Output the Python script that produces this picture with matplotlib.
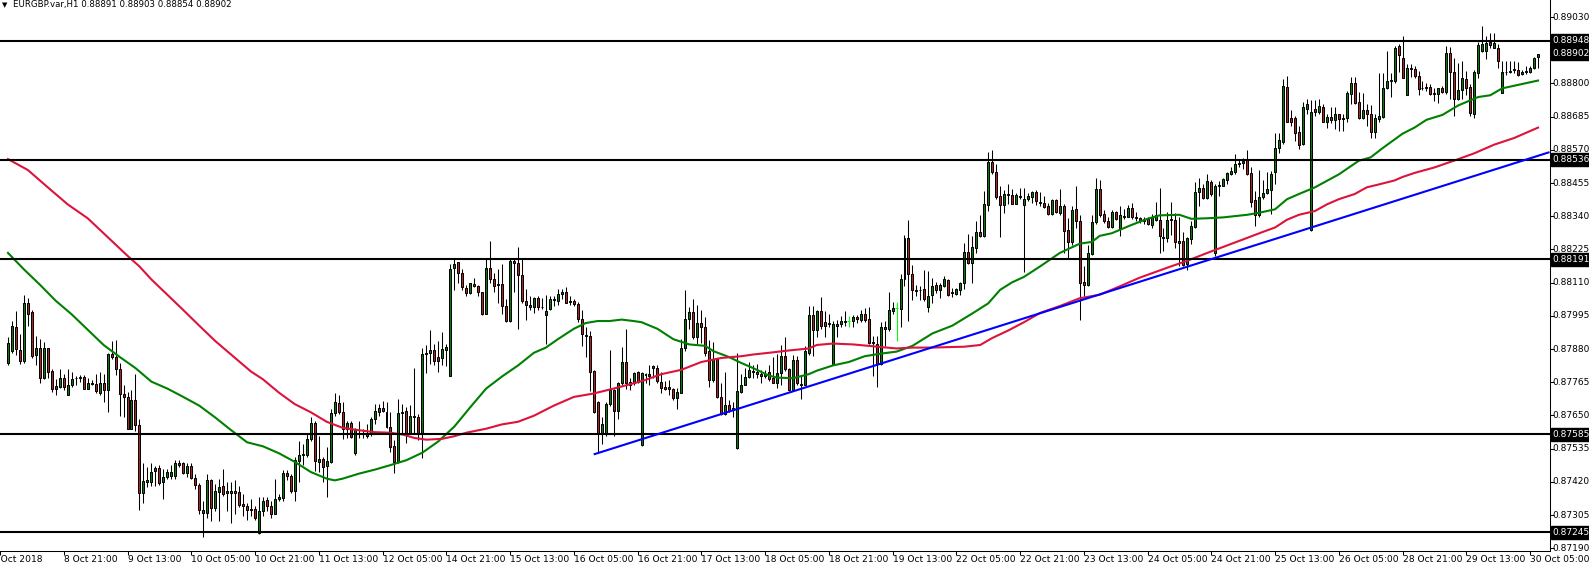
import matplotlib
matplotlib.use("Agg")
import matplotlib.pyplot as plt
import matplotlib.transforms as mtransforms
import numpy as np

# EURGBP H1 candles, prices in points (1 point = 0.00001)
opens = [
    87832, 87873, 87958, 87876, 87838, 88041, 88008, 87859, 87882, 87779,
    87882, 87805, 87751, 87749, 87779, 87720, 87755, 87779, 87781, 87783,
    87743, 87764, 87760, 87729, 87764, 87737, 87864, 87852, 87812, 87723,
    87714, 87604, 87704, 87616, 87380, 87419, 87419, 87456, 87467, 87418,
    87437, 87439, 87439, 87478, 87484, 87450, 87476, 87434, 87410, 87324,
    87311, 87425, 87330, 87384, 87406, 87389, 87380, 87387, 87386, 87342,
    87336, 87323, 87325, 87242, 87318, 87356, 87336, 87309, 87359, 87363,
    87452, 87439, 87387, 87493, 87513, 87513, 87569, 87625, 87488, 87498,
    87474, 87489, 87658, 87694, 87661, 87602, 87625, 87519, 87590, 87584,
    87580, 87584, 87639, 87663, 87677, 87663, 87611, 87543, 87489, 87658,
    87665, 87590, 87645, 87645, 87584, 87864, 87866, 87875, 87852, 87849,
    87875, 87788, 88162, 88180, 88144, 88091, 88074, 88105, 88097, 88076,
    88003, 88159, 88121, 88102, 88104, 88029, 87977, 88186, 88177, 88135,
    88046, 88034, 88024, 88056, 88025, 87997, 88017, 88050, 88047, 88069,
    88078, 88046, 88046, 88035, 87985, 87927, 87926, 87805, 87696, 87584,
    87584, 87690, 87737, 87667, 87761, 87835, 87767, 87761, 87800, 87549,
    87790, 87788, 87816, 87816, 87767, 87748, 87749, 87741, 87710, 87729,
    87885, 87985, 88009, 87923, 87970, 87958, 87873, 87773, 87847, 87714,
    87655, 87686, 87675, 87537, 87731, 87757, 87783, 87805, 87802, 87793,
    87785, 87800, 87779, 87764, 87796, 87855, 87812, 87737, 87843, 87760,
    87755, 87867, 87997, 87945, 88012, 87973, 87967, 87826, 87961, 87965,
    87975, 87977, 87977, 87991, 87979, 88000, 87985, 87903, 87896, 87828,
    87951, 87950, 88012, 88023, 88017, 88123, 88265, 88139, 88086, 88083,
    88088, 88024, 88068, 88103, 88086, 88100, 88119, 88074, 88071, 88086,
    88107, 88215, 88177, 88229, 88284, 88272, 88379, 88529, 88494, 88411,
    88379, 88414, 88414, 88384, 88411, 88379, 88399, 88407, 88423, 88388,
    88387, 88375, 88348, 88395, 88352, 88375, 88292, 88251, 88364, 88324,
    88111, 88103, 88209, 88319, 88434, 88348, 88324, 88304, 88355, 88298,
    88338, 88339, 88369, 88336, 88333, 88322, 88331, 88310, 88328, 88328,
    88268, 88265, 88329, 88328, 88253, 88253, 88174, 88262, 88304, 88423,
    88438, 88403, 88458, 88213, 88445, 88446, 88464, 88488, 88494, 88522,
    88523, 88535, 88490, 88395, 88345, 88405, 88419, 88431, 88494, 88576,
    88596, 88788, 88679, 88679, 88632, 88591, 88712, 88292, 88712, 88702,
    88718, 88667, 88682, 88674, 88694, 88678, 88679, 88765, 88800, 88736,
    88679, 88709, 88694, 88632, 88676, 88682, 88785, 88809, 88809, 88930,
    88889, 88761, 88855, 88851, 88827, 88783, 88785, 88788, 88764, 88765,
    88785, 88771, 88906, 88839, 88745, 88777, 88816, 88788, 88694, 88836,
    88912, 88912, 88942, 88924, 88924, 88768, 88838, 88841, 88847, 88847,
    88832, 88841, 88839, 88855, 88891,
]
highs = [
    87920, 87977, 88012, 87932, 88068, 88056, 88015, 87926, 87914, 87906,
    87885, 87812, 87775, 87812, 87793, 87812, 87800, 87788, 87790, 87790,
    87781, 87773, 87793, 87802, 87793, 87867, 87908, 87910, 87832, 87755,
    87731, 87737, 87793, 87637, 87484, 87472, 87484, 87474, 87478, 87466,
    87466, 87478, 87495, 87495, 87490, 87484, 87484, 87448, 87415, 87354,
    87446, 87431, 87413, 87431, 87466, 87419, 87419, 87427, 87407, 87377,
    87348, 87360, 87336, 87366, 87366, 87366, 87354, 87431, 87377, 87462,
    87462, 87448, 87505, 87560, 87552, 87584, 87643, 87631, 87578, 87507,
    87539, 87672, 87729, 87722, 87696, 87631, 87631, 87607, 87631, 87602,
    87619, 87646, 87690, 87690, 87699, 87696, 87661, 87564, 87708, 87690,
    87678, 87686, 87814, 87655, 87882, 87894, 87945, 87896, 87908, 87938,
    87896, 88174, 88197, 88182, 88156, 88103, 88109, 88127, 88103, 88079,
    88197, 88253, 88144, 88156, 88174, 88052, 88194, 88194, 88233, 88194,
    88088, 88064, 88060, 88062, 88056, 88068, 88062, 88064, 88088, 88088,
    88095, 88064, 88052, 88044, 88015, 87958, 87941, 87808, 87699, 87643,
    87696, 87875, 87743, 87767, 87887, 87950, 87781, 87800, 87805, 87800,
    87796, 87826, 87826, 87826, 87802, 87769, 87773, 87746, 87746, 87914,
    88085, 88026, 88052, 88032, 88015, 87991, 87910, 87906, 87849, 87764,
    87800, 87705, 87696, 87867, 87793, 87816, 87835, 87826, 87828, 87808,
    87808, 87826, 87852, 87864, 87894, 87923, 87814, 87859, 87855, 87790,
    87891, 88029, 88029, 88015, 88060, 88012, 88000, 87977, 87979, 87994,
    88012, 87994, 87997, 87997, 88015, 88021, 88026, 87926, 87926, 87973,
    87977, 88079, 88044, 88044, 88139, 88274, 88328, 88171, 88103, 88097,
    88154, 88150, 88127, 88111, 88109, 88133, 88124, 88091, 88091, 88111,
    88247, 88280, 88272, 88324, 88345, 88426, 88564, 88568, 88521, 88443,
    88431, 88450, 88434, 88419, 88438, 88438, 88419, 88429, 88431, 88423,
    88411, 88387, 88399, 88399, 88434, 88384, 88333, 88375, 88443, 88343,
    88166, 88239, 88343, 88473, 88466, 88360, 88339, 88360, 88358, 88375,
    88364, 88379, 88387, 88355, 88336, 88339, 88339, 88348, 88391, 88438,
    88298, 88355, 88391, 88352, 88339, 88284, 88268, 88324, 88458, 88473,
    88452, 88485, 88466, 88450, 88462, 88473, 88493, 88509, 88556, 88535,
    88541, 88568, 88511, 88429, 88499, 88466, 88494, 88497, 88629, 88629,
    88816, 88827, 88709, 88686, 88653, 88736, 88745, 88741, 88741, 88745,
    88730, 88694, 88718, 88718, 88694, 88694, 88773, 88824, 88824, 88771,
    88768, 88729, 88724, 88694, 88836, 88836, 88912, 88836, 88930, 88936,
    88965, 88867, 88867, 88859, 88844, 88809, 88800, 88797, 88785, 88785,
    88792, 88930, 88927, 88889, 88871, 88877, 88844, 88797, 88847, 88942,
    88998, 88965, 88974, 88974, 88936, 88879, 88877, 88877, 88877, 88875,
    88847, 88859, 88859, 88891, 88903,
]
lows = [
    87826, 87867, 87861, 87828, 87832, 87961, 87849, 87826, 87761, 87776,
    87781, 87731, 87720, 87746, 87737, 87720, 87749, 87757, 87767, 87740,
    87741, 87755, 87729, 87722, 87696, 87661, 87847, 87790, 87649, 87643,
    87602, 87602, 87596, 87324, 87348, 87403, 87407, 87407, 87410, 87360,
    87431, 87431, 87431, 87472, 87448, 87437, 87431, 87395, 87307, 87230,
    87295, 87283, 87318, 87286, 87371, 87318, 87277, 87307, 87333, 87301,
    87289, 87301, 87289, 87238, 87301, 87318, 87295, 87307, 87354, 87354,
    87425, 87383, 87354, 87419, 87478, 87507, 87560, 87458, 87454, 87419,
    87366, 87484, 87649, 87655, 87569, 87572, 87572, 87513, 87572, 87572,
    87572, 87578, 87619, 87649, 87661, 87607, 87525, 87450, 87486, 87590,
    87554, 87587, 87590, 87564, 87501, 87796, 87828, 87823, 87802, 87826,
    87820, 87788, 88083, 88109, 88085, 88062, 88071, 88095, 88064, 87997,
    88003, 88109, 88076, 88038, 88003, 87973, 87973, 88076, 87949, 88038,
    87982, 88015, 88005, 88015, 88017, 87896, 88015, 88029, 88032, 88052,
    88038, 88032, 88029, 87973, 87891, 87852, 87734, 87658, 87519, 87552,
    87580, 87684, 87578, 87637, 87757, 87743, 87737, 87757, 87764, 87545,
    87761, 87755, 87779, 87764, 87726, 87737, 87720, 87705, 87672, 87726,
    87873, 87950, 87914, 87896, 87902, 87855, 87749, 87767, 87710, 87652,
    87652, 87661, 87643, 87534, 87726, 87755, 87779, 87779, 87781, 87761,
    87779, 87769, 87761, 87746, 87757, 87805, 87734, 87734, 87755, 87708,
    87755, 87861, 87855, 87920, 87950, 87923, 87955, 87826, 87923, 87956,
    87961, 87955, 87956, 87970, 87973, 87973, 87896, 87785, 87749, 87826,
    87891, 87944, 88003, 87908, 87958, 88100, 87977, 88050, 88064, 88050,
    88047, 88009, 88041, 88074, 88056, 88095, 88062, 88060, 88068, 88068,
    88088, 88174, 88109, 88213, 88269, 88269, 88358, 88488, 88399, 88268,
    88352, 88384, 88381, 88381, 88399, 88147, 88393, 88387, 88379, 88375,
    88367, 88345, 88345, 88352, 88345, 88213, 88192, 88239, 88298, 87979,
    88062, 88097, 88206, 88312, 88339, 88316, 88300, 88300, 88328, 88272,
    88331, 88336, 88331, 88322, 88316, 88312, 88310, 88300, 88324, 88213,
    88218, 88251, 88274, 88229, 88166, 88166, 88154, 88245, 88298, 88375,
    88399, 88399, 88411, 88201, 88411, 88443, 88450, 88482, 88488, 88509,
    88505, 88482, 88372, 88307, 88336, 88399, 88417, 88348, 88450, 88558,
    88591, 88665, 88653, 88600, 88573, 88588, 88694, 88288, 88688, 88694,
    88665, 88647, 88662, 88643, 88635, 88635, 88665, 88729, 88729, 88676,
    88676, 88653, 88611, 88611, 88665, 88679, 88780, 88753, 88800, 88841,
    88818, 88761, 88824, 88820, 88761, 88777, 88773, 88759, 88738, 88733,
    88768, 88765, 88747, 88688, 88741, 88745, 88759, 88686, 88679, 88820,
    88910, 88883, 88922, 88922, 88853, 88768, 88830, 88836, 88836, 88827,
    88830, 88832, 88836, 88851, 88854,
]
closes = [
    87902, 87961, 87879, 87838, 88038, 88003, 87855, 87882, 87779, 87882,
    87802, 87743, 87743, 87779, 87749, 87757, 87776, 87781, 87782, 87743,
    87762, 87760, 87734, 87764, 87737, 87864, 87852, 87812, 87723, 87714,
    87604, 87704, 87616, 87380, 87422, 87427, 87453, 87467, 87415, 87437,
    87454, 87453, 87484, 87486, 87450, 87476, 87434, 87410, 87322, 87311,
    87427, 87330, 87387, 87403, 87377, 87380, 87389, 87380, 87340, 87336,
    87323, 87325, 87295, 87318, 87354, 87336, 87309, 87360, 87366, 87450,
    87439, 87387, 87495, 87513, 87517, 87569, 87625, 87492, 87499, 87472,
    87493, 87658, 87696, 87661, 87602, 87623, 87576, 87599, 87584, 87590,
    87587, 87639, 87665, 87677, 87667, 87611, 87539, 87488, 87658, 87661,
    87590, 87649, 87649, 87587, 87864, 87866, 87875, 87840, 87840, 87879,
    87887, 88156, 88174, 88142, 88095, 88074, 88107, 88097, 88076, 88003,
    88159, 88121, 88100, 88104, 88029, 87977, 88186, 88177, 88135, 88047,
    88034, 88024, 88056, 88024, 88026, 88012, 88052, 88052, 88071, 88078,
    88041, 88043, 88035, 87985, 87932, 87924, 87802, 87661, 87584, 87619,
    87690, 87737, 87667, 87761, 87835, 87761, 87757, 87796, 87767, 87796,
    87793, 87793, 87820, 87769, 87746, 87743, 87741, 87710, 87731, 87885,
    87985, 88009, 87923, 87970, 87958, 87867, 87773, 87847, 87714, 87655,
    87686, 87667, 87670, 87734, 87757, 87783, 87808, 87802, 87793, 87788,
    87795, 87776, 87764, 87796, 87855, 87812, 87737, 87843, 87761, 87755,
    87873, 87997, 87945, 88012, 87961, 87961, 87970, 87965, 87967, 87977,
    87978, 87977, 87991, 87984, 88000, 87982, 87902, 87900, 87828, 87958,
    87956, 88015, 88022, 88023, 88123, 88265, 88139, 88083, 88080, 88086,
    88052, 88062, 88097, 88086, 88103, 88121, 88068, 88076, 88088, 88109,
    88215, 88177, 88233, 88284, 88272, 88381, 88529, 88494, 88405, 88379,
    88417, 88417, 88384, 88414, 88405, 88399, 88410, 88423, 88393, 88386,
    88372, 88348, 88395, 88355, 88375, 88288, 88251, 88360, 88322, 88109,
    88103, 88213, 88319, 88434, 88345, 88322, 88304, 88355, 88331, 88343,
    88341, 88369, 88336, 88333, 88322, 88331, 88312, 88339, 88343, 88272,
    88265, 88328, 88326, 88251, 88248, 88171, 88265, 88307, 88425, 88438,
    88403, 88462, 88417, 88446, 88447, 88470, 88490, 88497, 88521, 88524,
    88533, 88488, 88391, 88343, 88407, 88422, 88433, 88485, 88576, 88603,
    88792, 88667, 88667, 88627, 88588, 88718, 88728, 88702, 88700, 88721,
    88667, 88682, 88674, 88694, 88676, 88679, 88768, 88800, 88733, 88679,
    88709, 88694, 88632, 88679, 88686, 88785, 88809, 88811, 88924, 88898,
    88820, 88853, 88851, 88827, 88780, 88785, 88788, 88765, 88766, 88783,
    88771, 88906, 88839, 88745, 88777, 88818, 88785, 88698, 88839, 88934,
    88936, 88941, 88934, 88941, 88877, 88839, 88841, 88844, 88850, 88830,
    88841, 88843, 88855, 88889, 88902,
]

# moving averages (bar index, points)
fast_ma_bars = [0, 4, 8, 12, 16, 20, 24, 28, 32, 36, 40, 44, 48, 52, 56, 60, 64, 68, 72, 76,
                80, 82, 84, 88, 92, 96, 100, 104, 108, 112, 116, 120, 124, 128, 132, 135, 138,
                142, 145, 148, 151, 154, 157, 159, 163, 167, 171, 175, 177, 181, 184, 187, 191,
                193, 197, 201, 203, 207, 211, 215, 219, 223, 227, 232, 237, 242, 246, 249, 252,
                255, 259, 264, 269, 272, 274, 277, 282, 286, 289, 294, 297, 301, 305, 311, 314,
                318, 321, 324, 328, 334, 339, 342, 345, 350, 353, 356, 360, 364, 369, 372, 375,
                379, 384]
fast_ma_pts = [88213, 88156, 88103, 88047, 88000, 87947, 87894, 87853, 87814, 87767,
               87743, 87714, 87684, 87643, 87599, 87557, 87543, 87519, 87489, 87454,
               87431, 87425, 87431, 87448, 87462, 87478, 87495, 87521, 87560, 87611,
               87678, 87743, 87785, 87823, 87867, 87885, 87914, 87950, 87970, 87977,
               87977, 87982, 87977, 87973, 87950, 87914, 87896, 87891, 87873, 87852,
               87832, 87814, 87788, 87781, 87779, 87793, 87805, 87823, 87835, 87855,
               87864, 87871, 87891, 87934, 87961, 88003, 88038, 88085, 88111, 88130,
               88166, 88213, 88245, 88251, 88272, 88281, 88310, 88331, 88343, 88345,
               88331, 88333, 88336, 88345, 88352, 88364, 88399, 88417, 88440, 88485,
               88532, 88544, 88576, 88626, 88647, 88674, 88691, 88724, 88753, 88759,
               88783, 88795, 88810]
slow_ma_bars = [0, 5, 10, 15, 20, 25, 30, 33, 36, 40, 44, 48, 52, 57, 61, 64, 68, 72, 76, 80,
                84, 88, 92, 96, 99, 102, 105, 109, 112, 115, 120, 124, 128, 132, 137, 142, 147,
                152, 157, 160, 164, 169, 174, 179, 184, 187, 191, 196, 201, 203, 207, 212, 216,
                219, 223, 227, 232, 237, 240, 244, 247, 251, 255, 259, 264, 269, 274, 279, 284,
                287, 291, 296, 301, 306, 311, 315, 318, 321, 324, 328, 331, 334, 338, 341, 344,
                348, 350, 353, 358, 363, 368, 373, 378, 384]
slow_ma_pts = [88538, 88500, 88440, 88381, 88333, 88268, 88203, 88166, 88121, 88068,
               88015, 87961, 87908, 87849, 87802, 87775, 87729, 87689, 87661, 87628,
               87607, 87599, 87592, 87590, 87584, 87572, 87566, 87569, 87578, 87590,
               87604, 87619, 87628, 87649, 87684, 87714, 87726, 87743, 87761, 87773,
               87793, 87808, 87835, 87849, 87855, 87861, 87867, 87875, 87882, 87894,
               87899, 87896, 87891, 87887, 87882, 87885, 87885, 87887, 87888, 87894,
               87918, 87944, 87973, 88005, 88029, 88056, 88068, 88097, 88127, 88142,
               88162, 88186, 88213, 88239, 88265, 88286, 88301, 88328, 88345, 88358,
               88381, 88399, 88417, 88440, 88450, 88464, 88476, 88490, 88509, 88533,
               88558, 88588, 88611, 88647]

levels = [0.88948, 0.88536, 0.88191, 0.87585, 0.87245]
trend_bars = [147, 254]
trend_prices = [0.87515, 0.87982]
bid = 0.88902

price_ticks = [0.89030, 0.88915, 0.88800, 0.88685, 0.88570, 0.88455, 0.88340, 0.88225,
               0.88110, 0.87995, 0.87880, 0.87765, 0.87650, 0.87535, 0.87420, 0.87305, 0.87190]
date_labels = ["8 Oct 2018", "8 Oct 21:00", "9 Oct 13:00", "10 Oct 05:00", "10 Oct 21:00",
               "11 Oct 13:00", "12 Oct 05:00", "14 Oct 21:00", "15 Oct 13:00", "16 Oct 05:00",
               "16 Oct 21:00", "17 Oct 13:00", "18 Oct 05:00", "18 Oct 21:00", "19 Oct 13:00",
               "22 Oct 05:00", "22 Oct 21:00", "23 Oct 13:00", "24 Oct 05:00", "24 Oct 21:00",
               "25 Oct 13:00", "26 Oct 05:00", "28 Oct 21:00", "29 Oct 13:00", "30 Oct 05:00"]
first_label_bar = -2
label_step = 16
title = "EURGBP.var,H1 0.88891 0.88903 0.88854 0.88902"

W, H = 1589, 570
AX_BOTTOM = 551     # px from top where the time axis sits
AX_RIGHT = 1549.5   # px where the price axis sits
PRICE_FONT = 6.5
DATE_FONT = 6.6

o = np.array(opens) / 1e5
h = np.array(highs) / 1e5
l = np.array(lows) / 1e5
c = np.array(closes) / 1e5
h = np.maximum(h, np.maximum(o, c))
l = np.minimum(l, np.minimum(o, c))
x = np.arange(len(c))

fig = plt.figure(figsize=(W / 100, H / 100), dpi=100)
ax = fig.add_axes([0, 1 - AX_BOTTOM / H, AX_RIGHT / W, AX_BOTTOM / H])
ax.set_xlim(-0.5, (AX_RIGHT - 2) / 4)
ax.set_ylim(0.871804, 0.890890)

# candles
doji = o == c
up = (c > o)
down = (c < o)
ax.vlines(x[~doji], l[~doji], h[~doji], color="black", lw=0.75, zorder=2)
ax.bar(x[up], c[up] - o[up], bottom=o[up], width=0.5, color="#008000",
       edgecolor="black", lw=0.72, zorder=2.2)
ax.bar(x[down], o[down] - c[down], bottom=c[down], width=0.5, color="#B22222",
       edgecolor="black", lw=0.72, zorder=2.2)
ax.vlines(x[doji], l[doji], h[doji], color="#00FF00", lw=0.75, zorder=2)
ax.hlines(o[doji], x[doji] - 0.4, x[doji] + 0.4, color="#00FF00", lw=0.75, zorder=2)

# moving averages
ax.plot(fast_ma_bars, np.array(fast_ma_pts) / 1e5, color="#008000", lw=1.5, zorder=3)
ax.plot(slow_ma_bars, np.array(slow_ma_pts) / 1e5, color="#DC143C", lw=1.5, zorder=3)

# support / resistance levels and trend line
for lv in levels:
    ax.axhline(lv, color="black", lw=1.5, zorder=4)
slope = (trend_prices[1] - trend_prices[0]) / (trend_bars[1] - trend_bars[0])
x_end = ax.get_xlim()[1]
ax.plot([trend_bars[0], x_end],
        [trend_prices[0], trend_prices[0] + slope * (x_end - trend_bars[0])],
        color="#0000FF", lw=1.5, zorder=4, solid_capstyle="butt")

# axes frame
for s in ["top", "left"]:
    ax.spines[s].set_visible(False)
for s in ["right", "bottom"]:
    ax.spines[s].set_linewidth(0.75)
ax.yaxis.tick_right()
ax.set_yticks(price_ticks)
ax.set_xticks([first_label_bar + label_step * k for k in range(len(date_labels))])
ax.tick_params(axis="both", length=3, width=0.75, direction="out",
               labelleft=False, labelright=False, labelbottom=False)

ytrans = mtransforms.blended_transform_factory(ax.transAxes, ax.transData)
lbl_trans = mtransforms.offset_copy(ytrans, fig=fig, x=3, y=0, units="dots")
for p in price_ticks:
    ax.text(1.0, p, f"{p:.5f}", transform=lbl_trans, ha="left", va="center",
            fontsize=PRICE_FONT, color="black", zorder=5, clip_on=False)

box_trans = mtransforms.offset_copy(ytrans, fig=fig, x=3, y=0, units="dots")
for p in levels + [bid]:
    ax.text(1.0, p, f"{p:.5f}", transform=box_trans, ha="left", va="center",
            fontsize=PRICE_FONT, color="white", zorder=6, clip_on=False,
            bbox=dict(boxstyle="square,pad=0.2", fc="black", ec="black"))

xtrans = mtransforms.blended_transform_factory(ax.transData, ax.transAxes)
date_trans = mtransforms.offset_copy(xtrans, fig=fig, x=0, y=-4, units="dots")
for k, lab in enumerate(date_labels):
    pos = first_label_bar + label_step * k
    if k == 0:
        pos -= 2   # first label runs off the left edge
    ax.text(pos, 0, lab, transform=date_trans,
            ha="left", va="top", fontsize=DATE_FONT, color="black", clip_on=False)

# title line
fig.text(2 / W, 1 - 5 / H, "\u25BC", fontsize=5, va="center", ha="left")
fig.text(13 / W, 1 - 5 / H, title, fontsize=6.2, va="center", ha="left")

fig.savefig("out.png", dpi=100, facecolor="white")
